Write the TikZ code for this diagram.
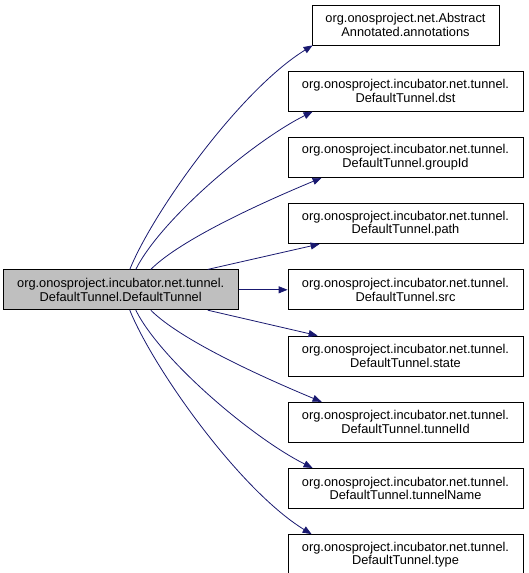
\documentclass[tikz,border=0pt]{standalone}
\usepackage{fontspec}
\setmainfont{Liberation Sans}
\usetikzlibrary{positioning,arrows.meta,calc}
\definecolor{EdgeBlue}{RGB}{25,25,112}
\definecolor{MainGray}{RGB}{191,191,191}

\begin{document}
\begin{tikzpicture}[
    x=1pt, y=-1pt,
    node distance=25.4pt,
    block/.style={rectangle, draw=black, line width=0.8pt, fill=white,
        minimum width=235pt, minimum height=40pt, inner sep=1pt, align=center,
        font=\fontsize{12.8}{13.8}\selectfont},
    current/.style={block, fill=MainGray},
    call/.style={-{Triangle[length=9pt, width=7pt]}, line width=0.8pt, EdgeBlue},
]
\useasboundingbox (0,0) rectangle (528,573);

\node[block, minimum width=187pt] (annot) at (405.5,25) {org.onosproject.net.Abstract\\Annotated.annotations};
\node[block, below=of annot] (dst) {org.onosproject.incubator.net.tunnel.\\DefaultTunnel.dst};
\node[block, below=of dst] (grp) {org.onosproject.incubator.net.tunnel.\\DefaultTunnel.groupId};
\node[block, below=of grp] (pth) {org.onosproject.incubator.net.tunnel.\\DefaultTunnel.path};
\node[block, below=of pth] (src) {org.onosproject.incubator.net.tunnel.\\DefaultTunnel.src};
\node[block, below=of src] (stt) {org.onosproject.incubator.net.tunnel.\\DefaultTunnel.state};
\node[block, below=of stt] (tid) {org.onosproject.incubator.net.tunnel.\\DefaultTunnel.tunnelId};
\node[block, below=of tid] (tnm) {org.onosproject.incubator.net.tunnel.\\DefaultTunnel.tunnelName};
\node[block, below=of tnm] (typ) {org.onosproject.incubator.net.tunnel.\\DefaultTunnel.type};

\node[current, left=49pt of src] (main) {org.onosproject.incubator.net.tunnel.\\DefaultTunnel.DefaultTunnel};

% calls above the main box
\draw[call] ([xshift=127pt]main.north west) .. controls +(23,-57) and +(-73,45) .. ([xshift=1pt]annot.south west);
\draw[call] ([xshift=133pt]main.north west) .. controls +(25,-50) and +(-60,30) .. ([xshift=25pt]dst.south west);
\draw[call] ([xshift=148pt]main.north west) .. controls +(30,-30) and +(-60,25) .. ([xshift=34pt]grp.south west);
\draw[call] ([xshift=205pt]main.north west) -- ([xshift=32pt]pth.south west);
\draw[call] (main) -- (src);
% calls below the main box
\draw[call] ([xshift=205pt]main.south west) -- ([xshift=30pt]stt.north west);
\draw[call] ([xshift=148pt]main.south west) .. controls +(30,30) and +(-60,-25) .. ([xshift=34pt]tid.north west);
\draw[call] ([xshift=133pt]main.south west) .. controls +(25,50) and +(-60,-30) .. ([xshift=25pt]tnm.north west);
\draw[call] ([xshift=127pt]main.south west) .. controls +(23,57) and +(-73,-45) .. ([xshift=24pt]typ.north west);
\end{tikzpicture}
\end{document}
